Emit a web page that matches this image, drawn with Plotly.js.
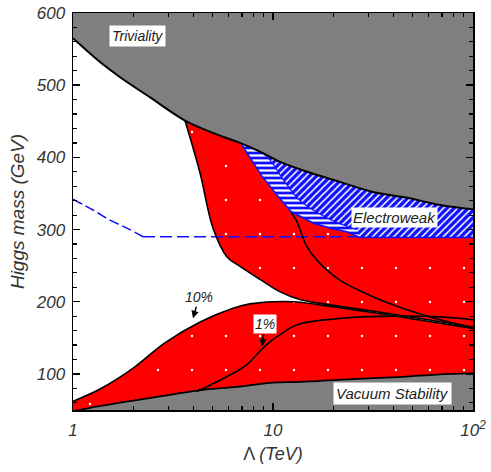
<!DOCTYPE html>
<html>
<head>
<meta charset="utf-8">
<script src="https://cdn.plot.ly/plotly-3.0.1.min.js"></script>
<style>html,body{margin:0;padding:0;background:#fff;}#chart{width:491px;height:472px;}</style>
</head>
<body>
<div id="chart"></div>
<script>
// ---- data (Λ in TeV, Higgs mass in GeV) ----
const trivLam = [1, 1.365, 1.72, 2.43, 3.63, 5.0, 6.84, 8.61, 10.8, 14.8, 21.6, 31.6, 46.8, 68.4, 100];
const trivM   = [565, 532, 511, 483, 451, 434, 420, 408, 394, 380, 366, 352, 344, 334, 328];

const vacLam = [1, 1.22, 2.0, 3.05, 4.47, 6.6, 10, 13.6, 26.3, 44.7, 66, 100];
const vacM   = [48, 53, 63, 71, 78, 82, 88, 89, 93, 96, 99, 101];

const ft10UpLam = [3.63, 4.32, 5.01, 5.89, 6.84, 8.61, 10.8, 13.6, 17.8, 31.6, 56.2, 100];
const ft10UpM   = [451, 378, 302, 262, 249, 231, 214, 203, 197, 187, 176, 165];

const ft10LoLam = [1, 1.365, 2.0, 2.88, 4.32, 6.31, 7.67, 12.6, 17.8, 31.6, 56.2, 100];
const ft10LoM   = [62, 79, 108, 143, 172, 191, 197, 200, 195, 185, 174, 163];

const ft1UpLam = [11.75, 12.16, 13.18, 13.65, 14.73, 16.53, 21.6, 31.6, 46.8, 68.4, 100];
const ft1UpM   = [340, 327, 311, 300, 277, 258, 230, 207, 189, 175, 164];

const ft1LoLam = [4.16, 5.87, 7.39, 9.23, 10.8, 13.18, 21.6, 38.5, 68.4, 100];
const ft1LoM   = [75.6, 96, 113, 140, 154, 168, 177, 180, 179, 175];

const ewLeftLam = [7.0, 8.81, 10.6, 12.3, 15.85, 19.3, 23.4, 27.2];
const ewLeftM   = [417, 374, 346, 325, 309, 302, 297, 289];
const ewInnerLam = [7.85, 9.33, 11.2, 13.65, 19.3, 26.3];
const ewInnerM   = [413, 401, 370, 340, 314, 300];
const ewBottomM = 289;

const dashCurveLam = [1, 1.26, 1.53, 1.86, 2.24];
const dashCurveM   = [342, 327, 313, 302, 290];
const dashFlatLam  = [2.24, 100];
const dashFlatM    = [290, 290];

const xTickVals = [1, 10, 100];
const xTickText = ['1', '10', '10<sup>2</sup>'];
const xMinorVals = [2,3,4,5,6,7,8,9,20,30,40,50,60,70,80,90];
const yTickVals = [100, 200, 300, 400, 500, 600];

const Y_MIN = 50, Y_MAX = 600;

// ---- derived paths ----
const sub = (lam, m, from) => {
  const idx = lam.map((v, i) => i).filter(i => lam[i] >= from);
  return {x: idx.map(i => lam[i]), y: idx.map(i => m[i])};
};
const trivRed = sub(trivLam, trivM, 3.63);
const trivEW = sub(trivLam, trivM, 6.84);
const ewBotX = ewLeftLam.concat([100]);
const ewBotY = ewLeftM.concat([ewBottomM]);

const RED = '#ff0000', GRAY = '#7f7f7f', BLUE = '#1010ff';
const dots = {shape: '.', bgcolor: RED, fgcolor: '#ffffff', size: 34, solidity: 0.004};

function ghost(x, y, shape) {
  return {x: x, y: y, type: 'scatter', mode: 'lines', hoverinfo: 'skip',
    line: {width: 0, color: 'rgba(0,0,0,0)', shape: shape || 'spline'}};
}
function fillTo(x, y, color, pattern, fillmode) {
  const t = {x: x, y: y, type: 'scatter', mode: 'lines', hoverinfo: 'skip',
    fill: fillmode || 'tonexty', fillcolor: color,
    line: {width: 0, color: 'rgba(0,0,0,0)', shape: 'spline'}};
  if (pattern) t.fillpattern = pattern;
  return t;
}
function line(x, y, color, w, dash, shape) {
  return {x: x, y: y, mode: 'lines', type: 'scatter', hoverinfo: 'skip',
    line: {color: color, width: w, dash: dash || 'solid', shape: shape || 'spline'}};
}

const traces = [
  // gray triviality region
  ghost([1, 100], [Y_MAX, Y_MAX], 'linear'),
  fillTo(trivLam, trivM, GRAY),
  // gray vacuum stability region
  fillTo(vacLam, vacM, GRAY, null, 'tozeroy'),
  // upper red region
  ghost(ft10UpLam, ft10UpM),
  fillTo(trivRed.x, trivRed.y, RED, dots),
  // lower red region
  ghost(vacLam, vacM),
  fillTo(ft10LoLam, ft10LoM, RED, dots),
  // blue dashed line
  line(dashCurveLam, dashCurveM, BLUE, 1.6, '10px,4px'),
  line(dashFlatLam, dashFlatM, BLUE, 1.6, '12px,5px', 'linear'),
  // fine-tuning contours
  line(ft10UpLam, ft10UpM, '#000', 1.6),
  line(ft10LoLam, ft10LoM, '#000', 1.6),
  line(ft1UpLam, ft1UpM, '#000', 1.6),
  line(ft1LoLam, ft1LoM, '#000', 1.6),
  // electroweak hatched region
  ghost(ewBotX, ewBotY, 'linear'),
  fillTo(trivEW.x, trivEW.y, BLUE, {shape: '/', bgcolor: BLUE, fgcolor: '#ffffff', size: 5, solidity: 0.3}),
  ghost(ewLeftLam, ewLeftM, 'linear'),
  fillTo(ewInnerLam, ewInnerM, BLUE, {shape: '-', bgcolor: BLUE, fgcolor: '#ffffff', size: 5, solidity: 0.45}),
  line(ewBotX, ewBotY, BLUE, 1.6, 'solid', 'linear'),
  line(ewInnerLam, ewInnerM, BLUE, 1.2),
  // outlines
  line(trivLam, trivM, '#000', 2),
  line(vacLam, vacM, '#000', 1.8)
];

const FONT = 'Liberation Sans, Arial, sans-serif';
const lab = {family: FONT, size: 14, color: '#222', style: 'italic'};
const L = Math.log10;

const layout = {
  width: 491, height: 472,
  margin: {l: 73, r: 18, t: 13, b: 62},
  paper_bgcolor: '#fff', plot_bgcolor: '#fff',
  showlegend: false,
  font: {family: FONT},
  xaxis: {
    type: 'log', range: [0, 2],
    tickmode: 'array', tickvals: xTickVals, ticktext: xTickText,
    ticks: 'inside', ticklen: 7, tickwidth: 1.5, tickcolor: '#000',
    minor: {ticks: 'inside', ticklen: 4, tickwidth: 1.2, tickcolor: '#000', tickmode: 'array', tickvals: xMinorVals, showgrid: false},
    showline: true, linewidth: 1.5, linecolor: '#000', mirror: 'allticks',
    showgrid: false, zeroline: false,
    ticklabelstandoff: 4,
    tickfont: {family: FONT, size: 17, color: '#333', style: 'italic'},
    title: {text: 'Λ <i>(TeV)</i>', font: {family: FONT, size: 18, color: '#333'}, standoff: 8}
  },
  yaxis: {
    range: [Y_MIN, Y_MAX],
    tickmode: 'array', tickvals: yTickVals,
    ticks: 'inside', ticklen: 7, tickwidth: 1.5, tickcolor: '#000',
    minor: {ticks: 'inside', ticklen: 4, tickwidth: 1.2, tickcolor: '#000', dtick: 20, showgrid: false},
    showline: true, linewidth: 1.5, linecolor: '#000', mirror: 'allticks',
    showgrid: false, zeroline: false,
    ticklabelstandoff: 3,
    tickfont: {family: FONT, size: 17, color: '#333', style: 'italic'},
    title: {text: 'Higgs mass (GeV)', font: {family: FONT, size: 19, color: '#333', style: 'italic'}, standoff: 6}
  },
  annotations: [
    {x: L(2.09), y: 568, xref: 'x', yref: 'y', text: 'Triviality', showarrow: false,
      bgcolor: '#fff', borderpad: 2, font: lab},
    {x: 1.605, y: 316.6, xref: 'x', yref: 'y', text: 'Electroweak', showarrow: false,
      bgcolor: '#fff', borderpad: 1, font: Object.assign({}, lab, {size: 15})},
    {x: 1.5975, y: 72.4, xref: 'x', yref: 'y', text: 'Vacuum Stability', showarrow: false,
      bgcolor: '#fff', borderpad: 2, font: Object.assign({}, lab, {size: 15})},
    {x: 0.6, y: 177, xref: 'x', yref: 'y', text: '10%', showarrow: true, ax: 6, ay: -21,
      arrowhead: 2, arrowsize: 1, arrowwidth: 1.5, arrowcolor: '#000', font: lab},
    {x: 0.945, y: 138, xref: 'x', yref: 'y', text: '1%', showarrow: true, ax: 3, ay: -22,
      bgcolor: '#fff', borderpad: 1,
      arrowhead: 2, arrowsize: 1, arrowwidth: 1.5, arrowcolor: '#000', font: lab}
  ]
};

Plotly.newPlot('chart', traces, layout, {displayModeBar: false, staticPlot: true});
</script>
</body>
</html>
